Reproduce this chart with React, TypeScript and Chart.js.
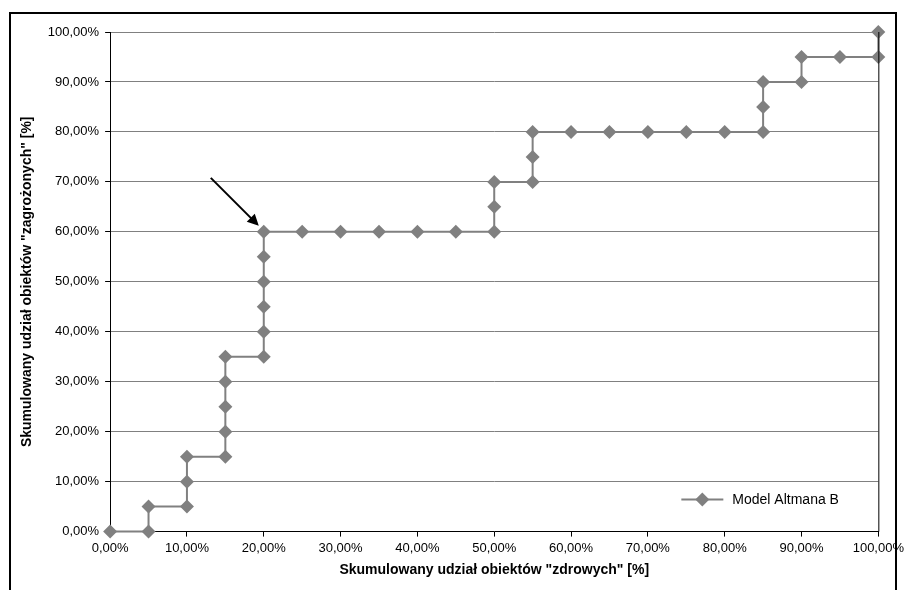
import { useEffect, useRef } from 'react'
import { Chart, registerables } from 'chart.js'
Chart.register(...registerables)

const xs = [0, 5, 5, 10, 10, 10, 15, 15, 15, 15, 15, 20, 20, 20, 20, 20, 20, 25, 30, 35, 40, 45, 50, 50, 50, 55, 55, 55, 60, 65, 70, 75, 80, 85, 85, 85, 90, 90, 95, 100, 100]
const ys = [0, 0, 5, 5, 10, 15, 15, 20, 25, 30, 35, 35, 40, 45, 50, 55, 60, 60, 60, 60, 60, 60, 60, 65, 70, 70, 75, 80, 80, 80, 80, 80, 80, 80, 85, 90, 90, 95, 95, 95, 100]
const seriesName = 'Model Altmana B'
const xTitle = 'Skumulowany udział obiektów "zdrowych" [%]'
const yTitle = 'Skumulowany udział obiektów "zagrożonych" [%]'

const fmt = (v: number) => v.toFixed(2).replace('.', ',') + '%'
const GRAY = '#808080'
const FONT = '"Liberation Sans", Arial, sans-serif'

function diamond(ctx: CanvasRenderingContext2D, x: number, y: number, r: number) {
  ctx.beginPath()
  ctx.moveTo(x, y - r); ctx.lineTo(x + r, y); ctx.lineTo(x, y + r); ctx.lineTo(x - r, y)
  ctx.closePath(); ctx.fill()
}

const extras = {
  id: 'extras',
  afterDraw(chart: any) {
    const { ctx, chartArea: a, scales } = chart
    ctx.save()
    ctx.strokeStyle = '#000'; ctx.lineWidth = 1
    ctx.beginPath()
    ctx.moveTo(a.right + 0.5, a.top); ctx.lineTo(a.right + 0.5, a.bottom)
    ctx.stroke()
    // arrow to (20, 60)
    const tx = scales.x.getPixelForValue(20) - 5
    const ty = scales.y.getPixelForValue(60) - 6
    const sx = tx - 48, sy = ty - 48
    ctx.lineWidth = 2
    ctx.beginPath(); ctx.moveTo(sx, sy); ctx.lineTo(tx - 6, ty - 6); ctx.stroke()
    ctx.fillStyle = '#000'
    ctx.beginPath()
    ctx.moveTo(tx, ty); ctx.lineTo(tx - 12, ty - 4); ctx.lineTo(tx - 4, ty - 12)
    ctx.closePath(); ctx.fill()
    // legend
    const ly = a.bottom - 32, lx = a.right - 197
    ctx.strokeStyle = GRAY; ctx.fillStyle = GRAY; ctx.lineWidth = 2
    ctx.beginPath(); ctx.moveTo(lx, ly); ctx.lineTo(lx + 42, ly); ctx.stroke()
    diamond(ctx, lx + 21, ly, 7)
    ctx.fillStyle = '#000'
    ctx.font = '14px ' + FONT
    ctx.textBaseline = 'middle'
    ctx.fillText(seriesName, lx + 51, ly + 1)
    ctx.restore()
  },
}

export default function App() {
  const ref = useRef<HTMLCanvasElement>(null)
  useEffect(() => {
    if (!ref.current) return
    const chart = new Chart(ref.current, {
      type: 'line',
      data: {
        datasets: [{
          label: seriesName,
          data: xs.map((x, i) => ({ x, y: ys[i] })),
          borderColor: GRAY, borderWidth: 2,
          pointStyle: 'rectRot', pointRadius: 7,
          pointBackgroundColor: GRAY, pointBorderColor: GRAY, pointBorderWidth: 0,
          tension: 0, clip: false,
        }],
      },
      plugins: [extras],
      options: {
        animation: false, responsive: false,
        layout: { padding: { left: 10, right: 0, top: 20, bottom: 11 } },
        plugins: { legend: { display: false }, tooltip: { enabled: false } },
        scales: {
          x: {
            type: 'linear', min: 0, max: 100,
            ticks: { stepSize: 10, callback: (v: any) => fmt(Number(v)), color: '#000', font: { size: 13, family: FONT }, maxRotation: 0, padding: 4 },
            grid: { drawOnChartArea: false, color: '#000', tickLength: 5 },
            border: { color: '#000', width: 1 },
            title: { display: true, text: xTitle, color: '#000', font: { size: 14, weight: 'bold', family: FONT }, padding: { top: 2, bottom: 0 } },
          },
          y: {
            min: 0, max: 100,
            ticks: { stepSize: 10, callback: (v: any) => fmt(Number(v)), color: '#000', font: { size: 13, family: FONT }, padding: 6 },
            grid: { color: GRAY, tickLength: 5, tickColor: '#000' },
            border: { color: '#000', width: 1 },
            title: { display: true, text: yTitle, color: '#000', font: { size: 14, weight: 'bold', family: FONT }, padding: { top: 0, bottom: 6 } },
          },
        },
      },
    })
    return () => chart.destroy()
  }, [])
  return (
    <div style={{ position: 'fixed', inset: 0, background: '#fff', overflow: 'hidden' }}>
      <div style={{ position: 'absolute', left: 9, top: 12, width: 888, height: 600, border: '2px solid #000', boxSizing: 'border-box', borderBottom: 'none' }} />
      <canvas ref={ref} width={899} height={578} style={{ position: 'absolute', left: 9, top: 12 }} />
    </div>
  )
}
